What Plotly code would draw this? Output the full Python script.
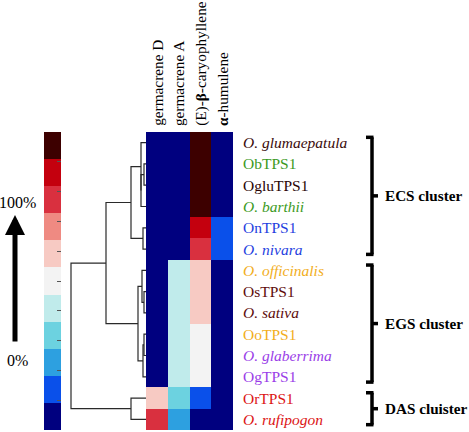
import plotly.graph_objects as go

# ---------------- data ----------------
compounds = ["germacrene D", "germacrene A", "(E)-<b>β</b>-caryophyllene", "<b>α</b>-humulene"]
labels = ["<i>O. glumaepatula</i>", "ObTPS1", "OgluTPS1", "<i>O. barthii</i>", "OnTPS1", "<i>O. nivara</i>",
          "<i>O. officinalis</i>", "OsTPS1", "<i>O. sativa</i>", "OoTPS1", "<i>O. glaberrima</i>", "OgTPS1",
          "OrTPS1", "<i>O. rufipogon</i>"]
label_colors = ["#3b0b0b", "#3c9a1e", "#2a0505", "#3c9a1e", "#1f3fe0", "#1f3fe0",
                "#f2ae1c", "#5e0c0c", "#5e0c0c", "#f2ae1c", "#9a3ee8", "#9a3ee8",
                "#dc1414", "#dc1414"]
germacrene_D = [0, 0, 0, 0, 0, 0, 0, 0, 0, 0, 0, 0, 56, 76]
germacrene_A = [0, 0, 0, 0, 0, 0, 42, 42, 42, 44, 44, 44, 30, 22]
caryophyllene = [100, 100, 100, 100, 86, 76, 58, 58, 58, 52, 52, 52, 12, 0]
humulene = [0, 0, 0, 0, 14, 14, 0, 0, 0, 0, 0, 0, 0, 0]

# dendrogram merges: (child_a, child_b, distance); leaves are 0..13, new ids from 14
merges = [(1, 2, 2), (14, 3, 5), (0, 15, 5), (4, 5, 3), (16, 17, 15),
          (7, 8, 2), (6, 19, 4), (9, 10, 2), (21, 11, 3), (20, 22, 8),
          (18, 23, 40), (12, 13, 15), (24, 25, 75)]

clusters = [("ECS cluster", 0, 5), ("EGS cluster", 6, 11), ("DAS cluister", 12, 13)]

scale_colors = ["#00007f", "#0a50ea", "#2da0e0", "#6cd2e0", "#c0ebeb", "#f3f3f3",
                "#f7cac3", "#ef8a82", "#d9303f", "#c4000e", "#3d0000"]
legend_ticks = [10, 20, 30, 40, 50, 60, 70, 80, 90]

# ---------------- build ----------------
W, H = 469, 432
def px_x(v): return v / W
def px_y(v): return 1 - v / H

n = len(scale_colors)
colorscale = []
for k, c in enumerate(scale_colors):
    colorscale.append([k / n, c])
    colorscale.append([(k + 1) / n, c])

z = [list(r) for r in zip(germacrene_D, germacrene_A, caryophyllene, humulene)]
rows = list(range(len(labels)))

fig = go.Figure()
fig.add_trace(go.Heatmap(z=z, x=[0, 1, 2, 3], y=rows, colorscale=colorscale,
                         zmin=0, zmax=100, showscale=False, xaxis="x", yaxis="y"))

# legend bar
edges = [k * 100 / n for k in range(n + 1)]
fig.add_trace(go.Heatmap(z=[[(k + 0.5) * 100 / n] for k in range(n)], x=[0, 1], y=edges,
                         colorscale=colorscale, zmin=0, zmax=100, showscale=False,
                         xaxis="x3", yaxis="y3"))

# dendrogram
pos = {i: (0.0, float(i)) for i in rows}
dx, dy = [], []
nid = len(rows)
for a, b, h in merges:
    ha, ya = pos[a]
    hb, yb = pos[b]
    dx += [ha, h, h, hb, None]
    dy += [ya, ya, yb, yb, None]
    pos[nid] = (h, (ya + yb) / 2)
    nid += 1
fig.add_trace(go.Scatter(x=dx, y=dy, mode="lines", line=dict(color="#2a2a2a", width=1.2),
                         xaxis="x2", yaxis="y", hoverinfo="skip"))

ydom = [px_y(430), px_y(132)]
fig.update_layout(
    width=W, height=H, margin=dict(l=0, r=0, t=0, b=0), autosize=False,
    paper_bgcolor="white", plot_bgcolor="white", showlegend=False,
    xaxis=dict(domain=[px_x(146), px_x(233)], range=[-0.5, 3.5], visible=False),
    yaxis=dict(domain=ydom, range=[13.5, -0.5], visible=False),
    xaxis2=dict(domain=[0, px_x(146)], range=[146, 0], visible=False, anchor="y"),
    xaxis3=dict(domain=[px_x(44), px_x(61)], range=[0, 1], visible=False, anchor="y3"),
    yaxis3=dict(domain=ydom, range=[0, 100], anchor="x3", side="right", tickvals=legend_ticks,
                ticks="inside", ticklen=4, tickcolor="#555", showticklabels=False,
                showgrid=False, zeroline=False, showline=False),
)

serif = "Liberation Serif"
ann = []
for i, c in enumerate(compounds):
    ann.append(dict(x=i, xref="x", y=px_y(128), yref="paper", text=c, textangle=-90,
                    showarrow=False, xanchor="center", yanchor="bottom",
                    font=dict(family=serif, size=15.3, color="black")))
for i, (t, col) in enumerate(zip(labels, label_colors)):
    ann.append(dict(x=px_x(241), xref="paper", y=i, yref="y", text=t, showarrow=False,
                    xanchor="left", yanchor="middle", font=dict(family=serif, size=15.5, color=col)))

shapes = []
bx = px_x(372)
for name, r0, r1 in clusters:
    y0, y1 = r0 - 0.25, r1 + 0.25
    ym = (r0 + r1) / 2
    ln = dict(color="black", width=3.5)
    shapes.append(dict(type="line", xref="paper", yref="y", x0=bx, x1=bx, y0=y0, y1=y1, line=ln))
    shapes.append(dict(type="line", xref="paper", yref="y", x0=px_x(366), x1=bx + 1.5 / W, y0=y0, y1=y0, line=ln))
    shapes.append(dict(type="line", xref="paper", yref="y", x0=px_x(366), x1=bx + 1.5 / W, y0=y1, y1=y1, line=ln))
    shapes.append(dict(type="line", xref="paper", yref="y", x0=bx, x1=px_x(378), y0=ym, y1=ym, line=ln))
    ann.append(dict(x=px_x(383), xref="paper", y=ym, yref="y", text="<b>%s</b>" % name,
                    showarrow=False, xanchor="left", yanchor="middle",
                    font=dict(family=serif, size=15.2, color="black")))

ann.append(dict(x=px_x(17), xref="paper", y=px_y(202), yref="paper", text="100%", showarrow=False,
                xanchor="center", yanchor="middle", font=dict(family=serif, size=16, color="black")))
ann.append(dict(x=px_x(17), xref="paper", y=px_y(360), yref="paper", text="0%", showarrow=False,
                xanchor="center", yanchor="middle", font=dict(family=serif, size=16, color="black")))
ann.append(dict(x=px_x(15), xref="paper", y=px_y(215), yref="paper", text="", showarrow=True,
                ax=0, ay=128, arrowhead=2, arrowsize=0.8, arrowwidth=5, arrowcolor="black"))

fig.update_layout(annotations=ann, shapes=shapes)
fig.write_html("out.html", config={"displayModeBar": False},
               post_script="document.body.style.margin='0';document.body.style.overflow='hidden';")
